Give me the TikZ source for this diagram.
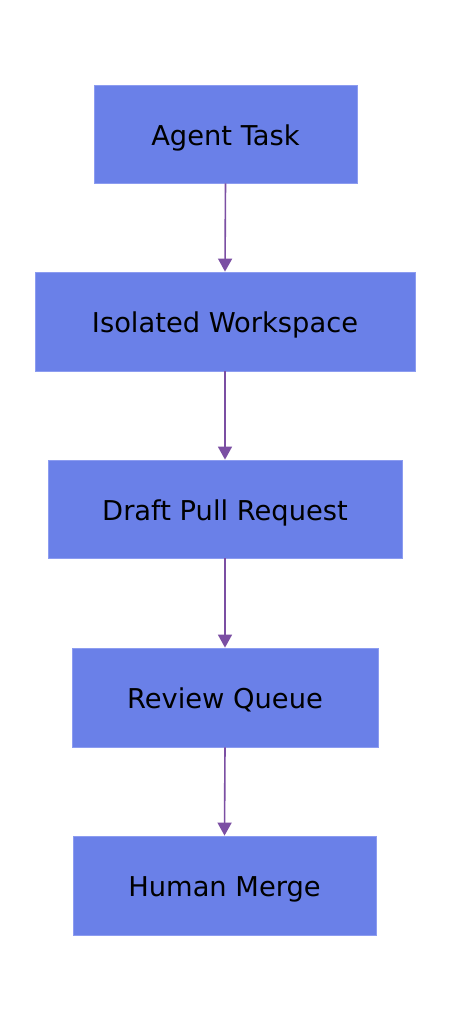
\documentclass[tikz,border=0pt]{standalone}
\usepackage{fontspec}
\setmainfont{DejaVu Sans}
\usetikzlibrary{arrows.meta}
\definecolor{boxfill}{HTML}{6A80E8}
\definecolor{boxline}{HTML}{8C9CF0}
\definecolor{arrowc}{HTML}{7B4FA3}
\begin{document}
\begin{tikzpicture}[x=1pt,y=-1pt,
  flowbox/.style={draw=boxline,line width=0.8pt,fill=boxfill,inner sep=0pt,
    text height=22pt,text depth=0pt,
    font=\fontsize{27.3}{30}\selectfont,text=black},
  flowarrow/.style={draw=arrowc,line width=1.6pt,-{Triangle[width=14pt,length=13pt]}}]
\useasboundingbox[fill=white] (0,0) rectangle (450,1020);
\node[flowbox,minimum width=263pt,minimum height=98pt] (a) at (225.5,134) {Agent Task};
\node[flowbox,minimum width=380pt,minimum height=99pt] (b) at (225,321.5) {Isolated Workspace};
\node[flowbox,minimum width=354pt,minimum height=98pt] (c) at (225,509) {Draft Pull Request};
\node[flowbox,minimum width=306pt,minimum height=99pt] (d) at (225,697.5) {Review Queue};
\node[flowbox,minimum width=303pt,minimum height=99pt] (e) at (224.5,885.5) {Human Merge};
\draw[flowarrow] (a.south) -- (b.north);
\draw[flowarrow] (b.south) -- (c.north);
\draw[flowarrow] (c.south) -- (d.north);
\draw[flowarrow] (d.south) -- (e.north);
\end{tikzpicture}
\end{document}
